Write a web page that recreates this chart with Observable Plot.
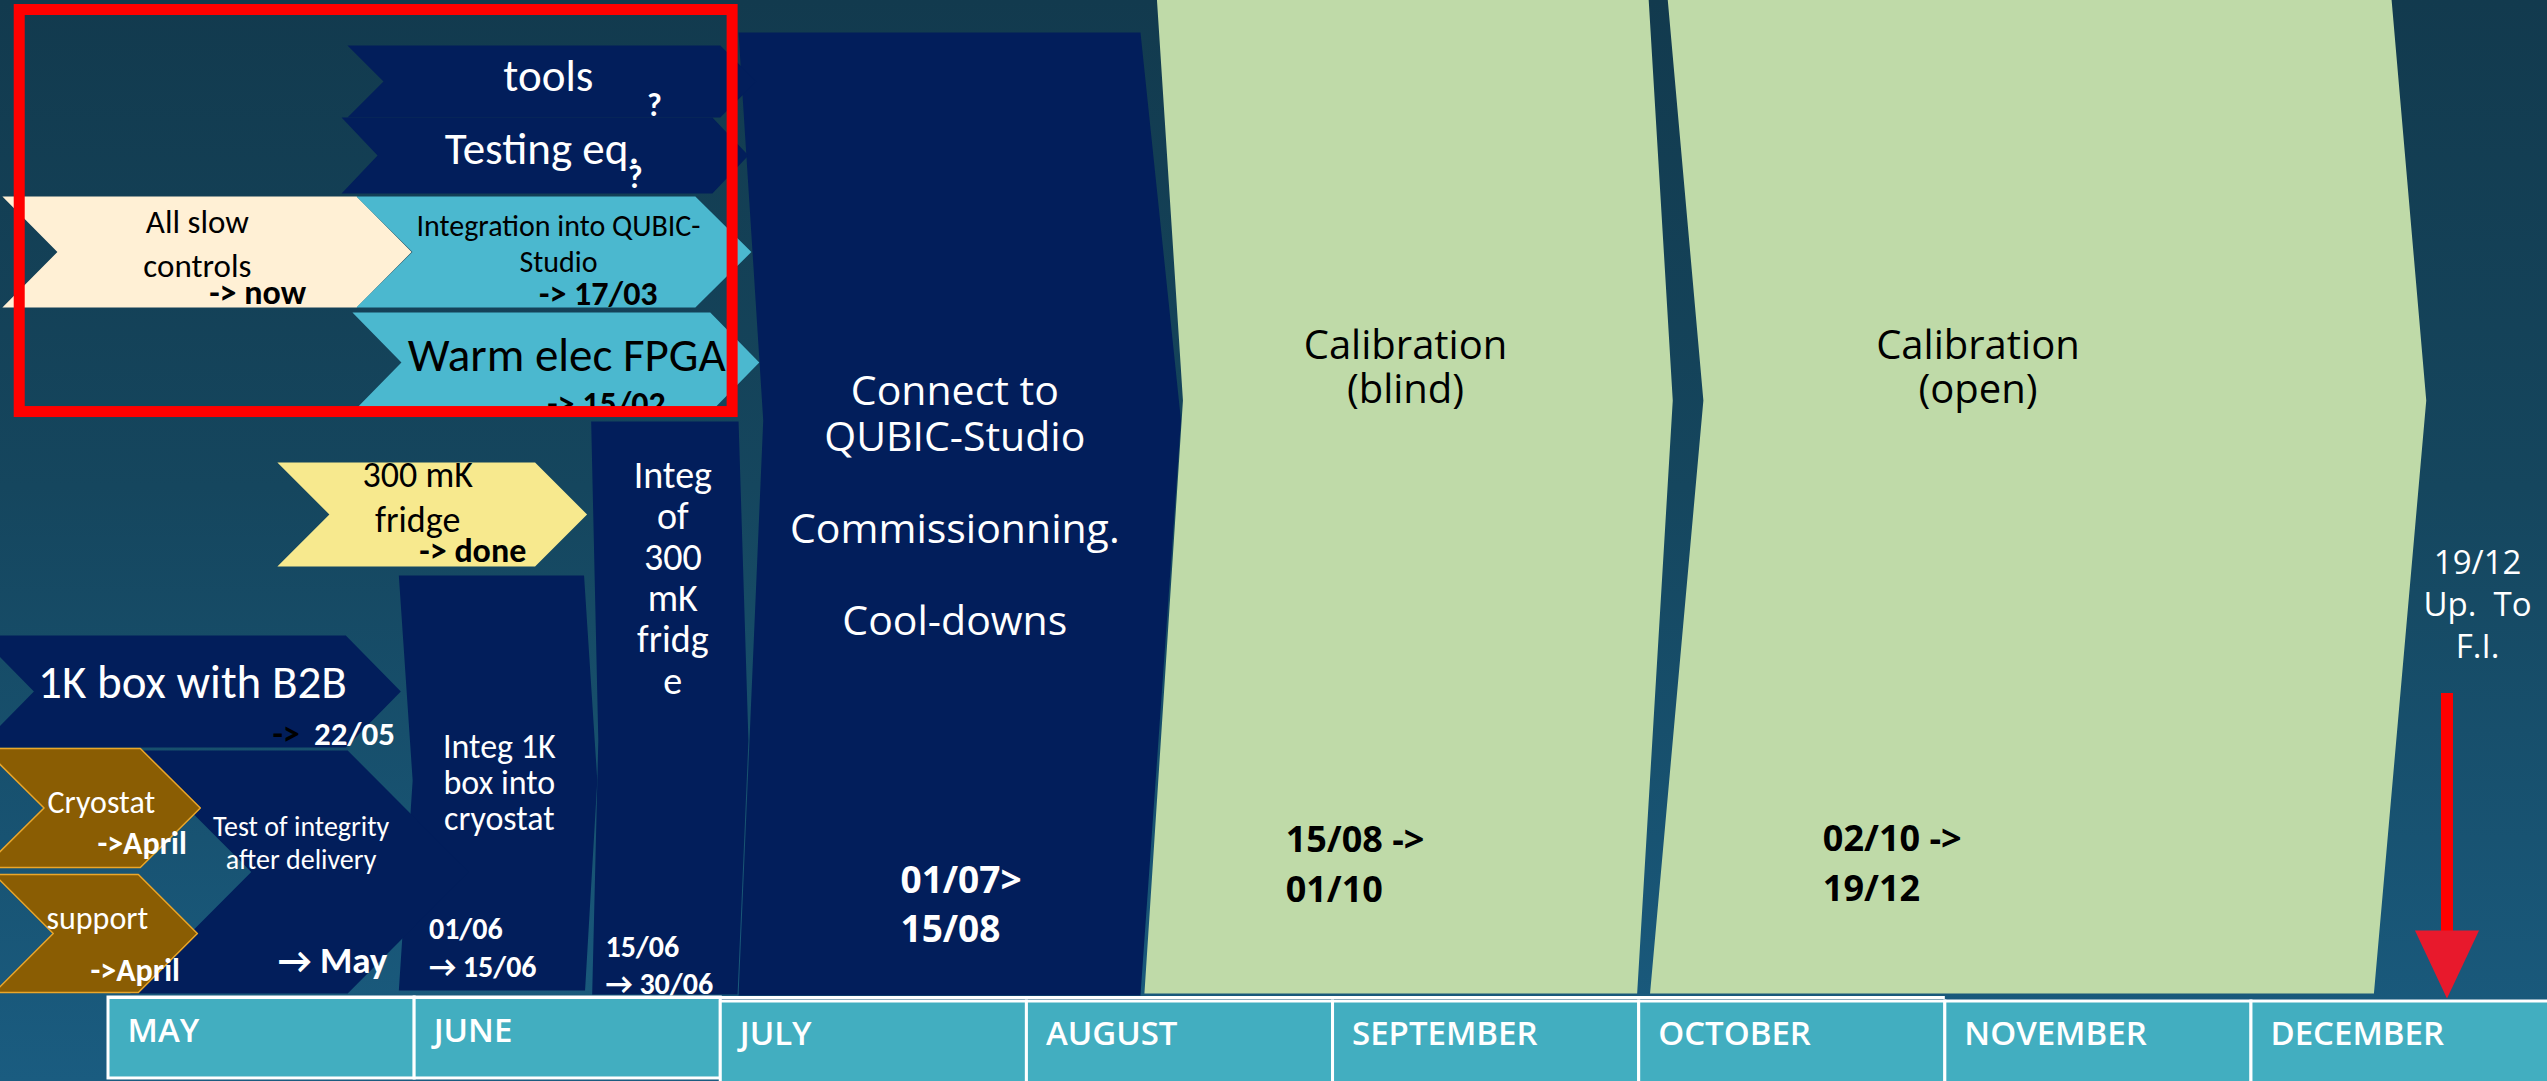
<!DOCTYPE html>
<html>
<head>
<meta charset="utf-8">
<script src="https://cdn.jsdelivr.net/npm/d3@7"></script>
<script src="https://cdn.jsdelivr.net/npm/@observablehq/plot@0.6"></script>
<style>
  html, body { margin: 0; padding: 0; background: #123a4e; overflow: hidden; }
  #chart svg { display: block; max-width: none; background: linear-gradient(180deg, #123a4e 0%, #15465e 45%, #1a5c80 100%); }
</style>
</head>
<body>
<div id="chart"></div>
<script>
// ---------------- DATA ----------------
// Dates are "DD/MM" (fractional days allowed); lanes are % of the timeline height from the top.
const months = ["MAY", "JUNE", "JULY", "AUGUST", "SEPTEMBER", "OCTOBER", "NOVEMBER", "DECEMBER"];
const monthTable = ["A", "A", "B", "B", "B", "B", "B", "B"];

// Chevron tasks
const chevronIds    = ["tools", "testing", "1kbox", "testint", "slow", "integ", "warm", "fridge300", "cryostat", "support"];
const chevronKind   = ["k_navy", "k_navy", "k_navy", "k_navy", "k_cream", "k_aqua", "k_aqua", "k_sun", "k_earth", "k_earth"];
const chevronStart  = ["25.2/05", "24.6/05", "18.3/04", "3.2/05", "20.6/04", "26.1/05", "25.7/05", "18.1/05", "18.8/04", "19.8/04"];
const chevronEnd    = ["4.6/07", "3.8/07", "30.6/05", "6.3/06", "31.7/05", "4.1/07", "4.9/07", "17.9/06", "10.3/05", "10.0/05"];
const chevronNotch  = [3.6, 3.6, 5.5, 12.1, 5.5, 5.6, 4.9, 5.2, 6.0, 5.9]; // days
const chevronTop    = [4.16, 10.82, 58.74, 69.38, 18.13, 18.13, 28.86, 42.74, 69.20, 80.85];
const chevronBottom = [10.82, 17.85, 69.10, 91.86, 28.40, 28.40, 38.11, 52.36, 80.20, 91.77];

// Tall phase blocks (left edge top/tip/bottom, right edge top/tip/bottom)
const blockIds      = ["integ1k", "integ300", "connect", "blind", "open"];
const blockKind     = ["k_navy", "k_navy", "k_navy", "k_leaf", "k_leaf"];
const blockLeft     = [["30.4/05", "31.8/05", "30.4/05"], ["18.3/06", "19.0/06", "18.4/06"], ["2.8/07", "5.3/07", "2.8/07"], ["14.1/08", "16.8/08", "12.9/08"], ["3.8/10", "7.5/10", "2.1/10"]];
const blockRight    = [["17.6/06", "18.9/06", "17.7/06"], ["2.8/07", "3.8/07", "2.7/07"], ["12.5/08", "16.6/08", "12.5/08"], ["1.9/10", "4.4/10", "30.8/09"], ["15.1/12", "18.7/12", "13.4/12"]];
const blockTop      = [53.19, 38.95, 2.96, -1, -1];
const blockTip      = [72.16, 68.45, 38.85, 37.0, 37.0];
const blockBottom   = [91.58, 91.95, 92.04, 91.86, 91.86];

// Text labels (lane = baseline of the last line)
const labelText = ["tools", "Testing eq.", "?", "?",
  "All slow\ncontrols", "-> now",
  "Integration into QUBIC-\nStudio", "-> 17/03",
  "Warm elec FPGA", "-> 15/02",
  "300 mK\nfridge", "-> done",
  "1K box with B2B", "->", "22/05",
  "Cryostat", "->April", "support", "->April",
  "Test of integrity\nafter delivery", "\u2192 May",
  "Integ 1K\nbox into\ncryostat", "01/06\n\u2192 15/06",
  "Integ\nof\n300\nmK\nfridg\ne", "15/06\n\u2192 30/06",
  "Connect to\nQUBIC-Studio\n\nCommissionning.\n\nCool-downs", "01/07>\n15/08",
  "Calibration\n(blind)", "15/08 ->\n01/10",
  "Calibration\n(open)", "02/10 ->\n19/12",
  "19/12\nUp.\u00a0 To\nF.I."];
const labelDate = ["14.1/06", "13.5/06", "24.5/06", "22.6/06",
  "10.0/05", "16.1/05",
  "15.1/06", "19.0/06",
  "15.9/06", "19.8/06",
  "1.3/06", "6.7/06",
  "24.1/04", "17.6/05", "21.8/05",
  "30.3/04", "4.4/05", "29.9/04", "3.7/05",
  "20.5/05", "23.7/05",
  "9.3/06", "2.4/06",
  "26.3/06", "19.7/06",
  "24.7/07", "19.2/07",
  "8.1/09", "27.2/08",
  "4.2/11", "19.6/10",
  "23.9/12"];
const labelLane = [8.33, 15.17, 10.73, 17.39,
  25.62, 28.12,
  25.16, 28.21,
  34.23, 38.3,
  49.21, 51.9,
  64.48, 68.83, 68.83,
  75.12, 78.91, 85.85, 90.66,
  80.30, 89.92,
  76.69, 90.29,
  64.11, 91.95,
  58.65, 87.14,
  37.28, 83.44,
  37.28, 83.26,
  60.78];
const labelKind = ["bigW", "bigW", "qW", "qW",
  "slowK", "boldK",
  "smallK", "boldK",
  "bigK", "boldK",
  "midK", "boldK",
  "bigWStart", "boldKStart", "boldWStart",
  "midW", "boldW", "midW", "boldW",
  "smallW", "mayW",
  "blockW", "dateW",
  "tallW", "dateW",
  "segW", "segBoldW",
  "segK", "segBoldK",
  "segK", "segBoldK",
  "noteW"];

// Milestone arrow "19/12 Up. To F.I."
const arrowDate = "20.8/12";
const arrowShaft = [64.11, 86.31];
const arrowHead = [86.03, 92.32];
const arrowHeadHalfDays = 3.2;

// Highlight frame
const frameDates = ["22.3/04", "2.2/07"];
const frameLanes = [0.88, 38.07];

// ---------------- STYLES ----------------
const kindNames  = ["k_navy", "k_cream", "k_aqua", "k_sun", "k_earth", "k_leaf"];
const kindColors = ["#021e5b", "#fff0d5", "#4bb8cf", "#f7e98e", "#8a5d03", "#bfdaa8"];
const CAL = "Carlito, Lato, 'Noto Sans', sans-serif";
const SEG = "'Open Sans', 'Noto Sans', sans-serif";
const styles = {
  bigW:       {font: CAL, size: 45, weight: 400, fill: "white", anchor: "middle", lh: 1},
  bigWStart:  {font: CAL, size: 47, weight: 400, fill: "white", anchor: "start", lh: 1},
  bigK:       {font: CAL, size: 47, weight: 400, fill: "black", anchor: "middle", lh: 1},
  qW:         {font: CAL, size: 32, weight: 700, fill: "white", anchor: "middle", lh: 1},
  slowK:      {font: CAL, size: 33, weight: 400, fill: "black", anchor: "middle", lh: 1.36},
  boldK:      {font: CAL, size: 34, weight: 700, fill: "black", anchor: "middle", lh: 1},
  boldKStart: {font: CAL, size: 34, weight: 700, fill: "black", anchor: "start", lh: 1},
  boldWStart: {font: CAL, size: 33, weight: 700, fill: "white", anchor: "start", lh: 1},
  smallK:     {font: CAL, size: 30, weight: 400, fill: "black", anchor: "middle", lh: 1.23},
  midK:       {font: CAL, size: 36, weight: 400, fill: "black", anchor: "middle", lh: 1.25},
  midW:       {font: CAL, size: 32, weight: 400, fill: "white", anchor: "middle", lh: 1},
  boldW:      {font: CAL, size: 32, weight: 700, fill: "white", anchor: "middle", lh: 1},
  smallW:     {font: CAL, size: 28, weight: 400, fill: "white", anchor: "middle", lh: 1.18},
  mayW:       {font: CAL, size: 37, weight: 700, fill: "white", anchor: "middle", lh: 1},
  blockW:     {font: CAL, size: 34, weight: 400, fill: "white", anchor: "middle", lh: 1.045},
  tallW:      {font: CAL, size: 38, weight: 400, fill: "white", anchor: "middle", lh: 1.08},
  dateW:      {font: CAL, size: 30, weight: 700, fill: "white", anchor: "start", lh: 1.25},
  segW:       {font: SEG, size: 41, weight: 400, fill: "white", anchor: "middle", lh: 1.12},
  segK:       {font: SEG, size: 40, weight: 400, fill: "black", anchor: "middle", lh: 1.1},
  segBoldW:   {font: SEG, size: 37, weight: 700, fill: "white", anchor: "start", lh: 1.35},
  segBoldK:   {font: SEG, size: 36, weight: 700, fill: "black", anchor: "start", lh: 1.39},
  noteW:      {font: SEG, size: 33, weight: 400, fill: "white", anchor: "middle", lh: 1.26}
};

// ---------------- BUILD ----------------
const daysIn = {4: 30, 5: 31, 6: 30, 7: 31, 8: 31, 9: 30, 10: 31, 11: 30, 12: 31};
const pos = s => { const [d, m] = s.split("/").map(Number); return (m - 5) + (d - 1) / daysIn[m]; };
const daysToMonths = d => d / 30.6;

const polys = [];
blockIds.forEach((id, i) => {
  const [lt, lm, lb] = blockLeft[i].map(pos), [rt, rm, rb] = blockRight[i].map(pos);
  const t = blockTop[i], m = blockTip[i], b = blockBottom[i];
  [[lt, t], [rt, t], [rm, m], [rb, b], [lb, b], [lm, m]].forEach(([x, y]) => polys.push({id, kind: blockKind[i], x, y}));
});
chevronIds.forEach((id, i) => {
  const s = pos(chevronStart[i]), e = pos(chevronEnd[i]), n = daysToMonths(chevronNotch[i]);
  const t = chevronTop[i], b = chevronBottom[i], m = (t + b) / 2;
  [[s, t], [e - n, t], [e, m], [e - n, b], [s, b], [s + n, m]].forEach(([x, y]) => polys.push({id, kind: chevronKind[i], x, y}));
});

const labels = labelText.map((text, i) => ({text, x: pos(labelDate[i]), y: labelLane[i], kind: labelKind[i]}));
const textMarks = Object.entries(styles).map(([k, s]) =>
  Plot.text(labels.filter(d => d.kind === k), {
    x: "x", y: "y", text: "text", lineAnchor: "bottom", lineHeight: s.lh,
    fontFamily: s.font, fontSize: s.size, fontWeight: s.weight, fill: s.fill, textAnchor: s.anchor
  })
);

const cells = months.map((name, i) => ({
  name, x1: i, x2: i + 1,
  y1: monthTable[i] === "A" ? 92.23 : 92.6,
  y2: monthTable[i] === "A" ? 99.72 : 100.5,
  base: monthTable[i] === "A" ? 96.39 : 96.58
}));

const ax = pos(arrowDate), ah = daysToMonths(arrowHeadHalfDays);
const head = [{x: ax - ah, y: arrowHead[0]}, {x: ax + ah, y: arrowHead[0]}, {x: ax, y: arrowHead[1]}];

const chart = Plot.plot({
  width: 2547, height: 1081,
  marginTop: 0, marginRight: 0, marginBottom: 0, marginLeft: 0,
  x: {domain: [0, 8], range: [108, 2557.1], axis: null},
  y: {domain: [0, 100], range: [0, 1081], axis: null},
  color: {type: "ordinal", domain: kindNames, range: kindColors},
  marks: [
    Plot.line(polys, {x: "x", y: "y", z: "id", fill: "kind", stroke: "none", curve: "linear-closed"}),
    Plot.line(polys.filter(d => d.kind === "k_earth"), {x: "x", y: "y", z: "id", fill: "#8a5d03", stroke: "#eaa62a", strokeWidth: 1.5, curve: "linear-closed"}),
    Plot.rect(cells, {x1: "x1", x2: "x2", y1: "y1", y2: "y2", fill: "#42aec0", stroke: "white", strokeWidth: 3}),
    Plot.ruleY([92.23], {x1: 0, x2: 6, stroke: "white", strokeWidth: 3}),
    Plot.text(cells, {x: "x1", y: "base", text: "name", dx: 19, lineAnchor: "bottom", textAnchor: "start",
      fontFamily: SEG, fontSize: 33, fontWeight: 600, fill: "white"}),
    ...textMarks,
    Plot.ruleX([ax], {y1: arrowShaft[0], y2: arrowShaft[1], stroke: "#ff0000", strokeWidth: 12}),
    Plot.line(head, {x: "x", y: "y", fill: "#e8192c", stroke: "none", curve: "linear-closed"}),
    Plot.rect([0], {x1: pos(frameDates[0]), x2: pos(frameDates[1]), y1: frameLanes[0], y2: frameLanes[1],
      fill: "none", stroke: "#ff0000", strokeWidth: 11})
  ]
});
document.getElementById("chart").appendChild(chart);
</script>
</body>
</html>
